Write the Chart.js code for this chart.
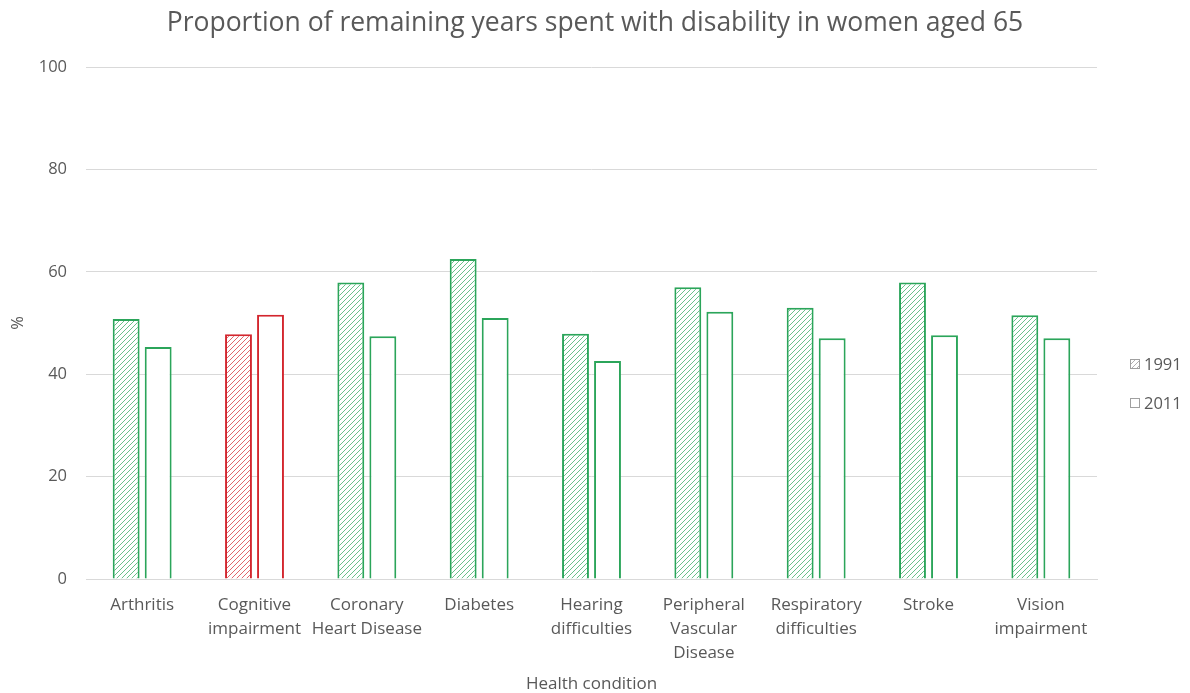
<!DOCTYPE html>
<html>
<head>
<meta charset="utf-8">
<script src="https://cdn.jsdelivr.net/npm/chart.js@4/dist/chart.umd.min.js"></script>
<style>
  html, body { margin: 0; padding: 0; background: #fff; }
  #wrap { width: 1190px; height: 693px; position: relative; }
</style>
</head>
<body>
<div id="wrap"><canvas id="c" width="1190" height="693"></canvas></div>
<script>
const categories = [
  ["Arthritis"],
  ["Cognitive", "impairment"],
  ["Coronary", "Heart Disease"],
  ["Diabetes"],
  ["Hearing", "difficulties"],
  ["Peripheral", "Vascular", "Disease"],
  ["Respiratory", "difficulties"],
  ["Stroke"],
  ["Vision", "impairment"]
];
const values1991 = [50.8, 47.8, 57.9, 62.5, 47.9, 57.0, 53.0, 57.9, 51.5];
const values2011 = [45.3, 51.6, 47.4, 51.0, 42.6, 52.2, 47.0, 47.6, 47.0];
const seriesNames = ["1991", "2011"];
const yTicks = [0, 20, 40, 60, 80, 100];
const highlightIndex = 1;
const chartTitle = "Proportion of remaining years spent with disability in women aged 65";

const GREEN = "#2BA55A";
const RED = "#D3262E";
const GREY_TEXT = "#595959";
const FONT = "'Open Sans', sans-serif";

function hatch(color) {
  const s = 5;
  const c = document.createElement("canvas");
  c.width = s; c.height = s;
  const g = c.getContext("2d");
  g.fillStyle = "#ffffff";
  g.fillRect(0, 0, s, s);
  g.strokeStyle = color;
  g.globalAlpha = 0.7;
  g.lineWidth = 1;
  g.beginPath();
  g.moveTo(0, s); g.lineTo(s, 0);
  g.moveTo(-s / 2, s / 2); g.lineTo(s / 2, -s / 2);
  g.moveTo(s / 2, s * 1.5); g.lineTo(s * 1.5, s / 2);
  g.stroke();
  return g.createPattern(c, "repeat");
}

const ctx = document.getElementById("c").getContext("2d");
const colorFor = i => (i === highlightIndex ? RED : GREEN);
const hatchGreen = hatch(GREEN), hatchRed = hatch(RED);

const decorPlugin = {
  id: "decor",
  afterDraw(chart) {
    const c = chart.ctx;
    c.save();
    // title centred on the full canvas
    c.font = "26.5px " + FONT;
    c.fillStyle = GREY_TEXT;
    c.textAlign = "center";
    c.textBaseline = "middle";
    c.fillText(chartTitle, chart.width / 2, 23);
    // legend
    c.textAlign = "left";
    c.font = "16.5px " + FONT;
    const items = [
      { label: seriesNames[0], fill: hatch("#8f8f8f") },
      { label: seriesNames[1], fill: "#ffffff" }
    ];
    const x = 1130, ys = [364, 403];
    items.forEach((it, k) => {
      const y = ys[k];
      c.fillStyle = it.fill;
      c.fillRect(x, y - 5, 10, 10);
      c.strokeStyle = "#a0a0a0";
      c.lineWidth = 1;
      c.strokeRect(x + 0.5, y - 4.5, 9, 9);
      c.fillStyle = GREY_TEXT;
      c.fillText(it.label, x + 14, y + 1);
    });
    c.restore();
  }
};

new Chart(ctx, {
  type: "bar",
  data: {
    labels: categories,
    datasets: [
      {
        label: seriesNames[0],
        data: values1991,
        backgroundColor: values1991.map((v, i) => i === highlightIndex ? hatchRed : hatchGreen),
        borderColor: values1991.map((v, i) => colorFor(i)),
        borderWidth: 2,
        borderSkipped: "bottom",
        categoryPercentage: 0.57,
        barPercentage: 0.84
      },
      {
        label: seriesNames[1],
        data: values2011,
        backgroundColor: "#ffffff",
        borderColor: values2011.map((v, i) => colorFor(i)),
        borderWidth: 2,
        borderSkipped: "bottom",
        categoryPercentage: 0.57,
        barPercentage: 0.84
      }
    ]
  },
  options: {
    responsive: false,
    animation: false,
    devicePixelRatio: 1,
    layout: { padding: { left: 8, right: 93, top: 67, bottom: 0 } },
    plugins: {
      legend: { display: false },
      tooltip: { enabled: false },
      title: { display: false }
    },
    scales: {
      x: {
        afterFit(scale) { scale.height = 114; },
        grid: { display: false, drawTicks: false },
        border: { color: "#d9d9d9", width: 1 },
        ticks: {
          color: GREY_TEXT,
          font: { family: FONT, size: 17, lineHeight: 1.41 },
          maxRotation: 0,
          autoSkip: false,
          padding: 14
        },
        title: {
          display: true,
          text: "Health condition",
          color: GREY_TEXT,
          font: { family: FONT, size: 17, lineHeight: 1 },
          padding: { top: 0, bottom: 0 }
        }
      },
      y: {
        min: 0,
        max: 100,
        afterFit(scale) { scale.width = 78; },
        afterBuildTicks(scale) { scale.ticks = yTicks.map(v => ({ value: v })); },
        grid: { color: "#d9d9d9", lineWidth: 1, drawTicks: false },
        border: { display: false },
        ticks: {
          color: GREY_TEXT,
          font: { family: FONT, size: 16.5 },
          padding: 19
        },
        title: {
          display: true,
          text: "%",
          color: GREY_TEXT,
          font: { family: FONT, size: 16.5 },
          padding: { top: 0, bottom: 0 }
        }
      }
    }
  },
  plugins: [decorPlugin]
});
</script>
</body>
</html>
